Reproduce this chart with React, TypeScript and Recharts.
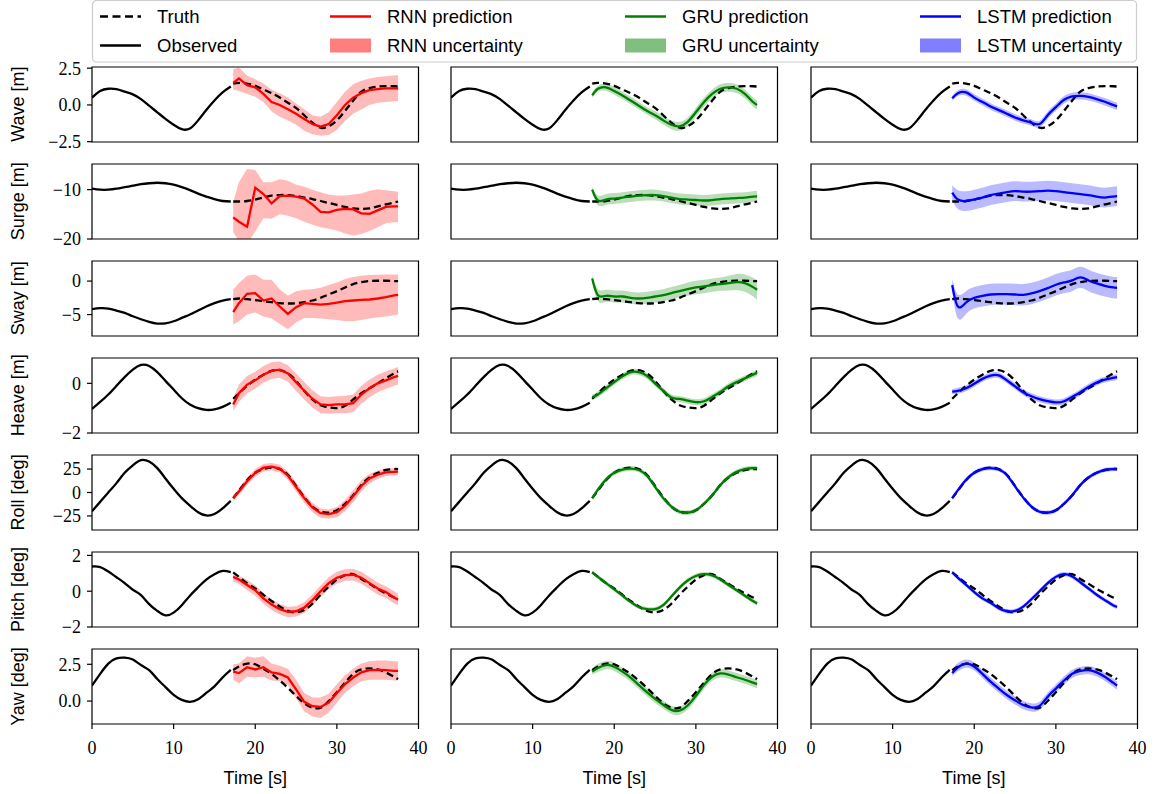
import React from 'react';
import { ComposedChart, Line, Area, XAxis, YAxis, ReferenceArea } from 'recharts';

// ---- time grids ----
const OBS_TIME = [0, 1, 2, 3, 4, 5, 6, 7, 8, 9, 10, 11, 12, 13, 14, 15, 16, 17];
const PRED_TIME = [17.3, 18, 19, 20, 21, 22, 23, 24, 25, 26, 27, 28, 29, 30, 31, 32, 33, 34, 35, 36, 37, 37.5];
const TIME_TICKS = [0, 10, 20, 30, 40];

// ---- Wave [m] ----
const waveObserved = [0.5, 0.95, 1.1, 1.07, 0.9, 0.72, 0.4, -0.05, -0.5, -0.95, -1.35, -1.65, -1.6, -1.05, -0.35, 0.3, 0.85, 1.25];
const waveTruth = [1.45, 1.5, 1.45, 1.3, 1.05, 0.8, 0.5, 0.15, -0.2, -0.7, -1.2, -1.55, -1.45, -1.05, -0.4, 0.3, 0.9, 1.15, 1.25, 1.28, 1.27, 1.25];
const waveRnn = [1.5, 1.8, 1.35, 1.2, 0.75, 0.2, 0.0, -0.3, -0.6, -0.95, -1.3, -1.48, -1.3, -0.7, 0.0, 0.5, 0.8, 1.0, 1.08, 1.12, 1.12, 1.12];
const waveRnnLow = [1.05, 0.95, 0.75, 0.55, 0.2, -0.45, -0.8, -1.05, -1.35, -1.75, -2.0, -2.1, -2.05, -1.7, -1.1, -0.6, -0.3, 0.0, 0.15, 0.2, 0.25, 0.27];
const waveRnnHigh = [2.43, 2.55, 2.0, 1.75, 1.45, 1.05, 0.8, 0.5, 0.1, -0.3, -0.7, -0.8, -0.5, 0.2, 0.9, 1.4, 1.65, 1.8, 1.9, 1.95, 2.0, 2.02];
const waveGru = [0.65, 1.1, 1.2, 0.95, 0.65, 0.3, -0.05, -0.4, -0.7, -1.05, -1.35, -1.45, -1.15, -0.5, 0.2, 0.75, 1.1, 1.2, 1.1, 0.75, 0.2, 0.0];
const waveGruSpread = [0.15, 0.2, 0.25, 0.25, 0.25, 0.25, 0.25, 0.25, 0.28, 0.28, 0.3, 0.3, 0.3, 0.3, 0.3, 0.3, 0.3, 0.3, 0.3, 0.3, 0.3, 0.3];
const waveLstm = [0.45, 0.8, 0.85, 0.5, 0.2, -0.1, -0.35, -0.6, -0.85, -1.05, -1.2, -1.3, -0.7, -0.15, 0.35, 0.58, 0.62, 0.55, 0.4, 0.22, 0.0, -0.1];
const waveLstmSpread = [0.15, 0.2, 0.22, 0.22, 0.22, 0.22, 0.22, 0.22, 0.22, 0.22, 0.22, 0.22, 0.25, 0.25, 0.25, 0.25, 0.25, 0.25, 0.25, 0.25, 0.25, 0.25];

// ---- Surge [m] ----
const surgeObserved = [-9.8, -10, -10, -9.8, -9.5, -9.2, -8.9, -8.7, -8.6, -8.7, -9.0, -9.5, -10.1, -10.8, -11.4, -11.9, -12.3, -12.4];
const surgeTruth = [-12.4, -12.4, -12.3, -12.0, -11.6, -11.2, -11.1, -11.1, -11.3, -11.6, -11.9, -12.3, -12.7, -13.1, -13.5, -13.8, -13.9, -13.8, -13.4, -13.0, -12.6, -12.4];
const surgeRnn = [-15.6, -16.5, -17.5, -9.6, -10.9, -12.8, -11.3, -11.2, -11.4, -11.8, -13.0, -14.5, -14.6, -14.1, -13.9, -14.0, -14.8, -14.9, -14.2, -13.5, -13.4, -13.4];
const surgeRnnLow = [-18.6, -20.5, -21, -18.5, -15.8, -15.9, -15.0, -15.3, -15.8, -16.5, -17.1, -17.6, -17.9, -18.3, -18.9, -19.3, -19.0, -18.4, -17.6, -16.8, -16.6, -16.6];
const surgeRnnHigh = [-12.5, -8.5, -5.8, -6.0, -8.5, -8.5, -7.9, -8.2, -9.0, -9.4, -10.0, -10.5, -11.0, -11.2, -11.2, -11.0, -10.8, -10.2, -9.9, -10.1, -10.3, -10.4];
const surgeGru = [-10.0, -12.2, -12.0, -11.8, -11.6, -11.4, -11.2, -11.1, -11.1, -11.3, -11.6, -11.9, -12.0, -12.1, -12.2, -12.1, -11.9, -11.8, -11.7, -11.6, -11.4, -11.35];
const surgeGruSpread = [0.6, 1.0, 1.1, 1.1, 1.1, 1.1, 1.1, 1.1, 1.1, 1.1, 1.1, 1.1, 1.1, 1.1, 1.1, 1.1, 1.1, 1.1, 1.1, 1.1, 1.1, 1.1];
const surgeLstm = [-10.6, -12.0, -12.3, -12.0, -11.6, -11.1, -10.8, -10.5, -10.3, -10.4, -10.4, -10.3, -10.2, -10.3, -10.5, -10.7, -10.9, -11.1, -11.4, -11.6, -11.4, -11.3];
const surgeLstmSpread = [1.5, 1.9, 2.0, 2.0, 2.0, 2.0, 2.0, 2.0, 2.0, 2.0, 2.0, 2.0, 2.0, 2.0, 2.0, 2.0, 2.0, 2.0, 2.0, 2.0, 2.0, 2.0];

// ---- Sway [m] ----
const swayObserved = [-4.2, -4.05, -4.1, -4.4, -4.75, -5.25, -5.7, -6.1, -6.35, -6.3, -6.0, -5.5, -5.0, -4.4, -3.8, -3.3, -2.9, -2.7];
const swayTruth = [-2.7, -2.6, -2.7, -2.85, -3.0, -3.15, -3.3, -3.35, -3.3, -3.15, -2.9, -2.5, -2.0, -1.5, -0.95, -0.45, -0.15, 0.0, 0.05, 0.05, 0.0, 0.0];
const swayRnn = [-4.65, -3.3, -1.9, -1.8, -2.9, -2.6, -3.8, -4.9, -3.9, -3.3, -3.4, -3.5, -3.4, -3.2, -3.0, -2.9, -2.8, -2.75, -2.6, -2.4, -2.15, -2.05];
const swayRnnLow = [-6.5, -6.0, -5.0, -4.7, -5.3, -5.6, -6.4, -7.2, -6.2, -5.5, -5.5, -5.6, -5.7, -5.8, -6.0, -6.0, -5.8, -5.6, -5.4, -5.3, -5.1, -5.0];
const swayRnnHigh = [-1.3, -0.3, 0.8, 1.0, 0.2, 0.2, -1.2, -2.2, -1.5, -1.3, -1.2, -1.0, -0.6, -0.2, 0.3, 0.6, 0.8, 0.9, 0.95, 1.0, 1.0, 1.0];
const swayGru = [0.4, -2.1, -2.2, -2.3, -2.3, -2.5, -2.6, -2.5, -2.3, -2.1, -1.8, -1.5, -1.2, -0.95, -0.8, -0.6, -0.45, -0.3, -0.15, -0.3, -0.9, -1.3];
const swayGruSpread = [0.5, 0.9, 0.9, 0.9, 0.9, 0.9, 0.9, 0.9, 0.9, 0.9, 0.9, 0.9, 1.0, 1.0, 1.0, 1.0, 1.0, 1.1, 1.2, 1.3, 1.4, 1.5];
const swayLstm = [-0.6, -3.8, -3.2, -2.5, -2.2, -2.0, -1.95, -1.95, -2.0, -2.05, -1.85, -1.5, -1.05, -0.55, -0.2, 0.1, 0.55, 0.1, -0.35, -0.7, -0.95, -1.0];
const swayLstmSpread = [1.0, 1.8, 1.7, 1.6, 1.6, 1.6, 1.6, 1.6, 1.6, 1.6, 1.6, 1.6, 1.6, 1.6, 1.6, 1.6, 1.6, 1.6, 1.6, 1.6, 1.6, 1.6];

// ---- Heave [m] ----
const heaveObserved = [-1.03, -0.75, -0.45, -0.1, 0.25, 0.55, 0.74, 0.7, 0.45, 0.1, -0.25, -0.6, -0.85, -1.0, -1.07, -1.05, -0.95, -0.78];
const heaveTruth = [-0.62, -0.4, -0.1, 0.15, 0.35, 0.5, 0.53, 0.4, 0.1, -0.3, -0.65, -0.88, -0.97, -1.0, -0.9, -0.65, -0.4, -0.2, 0.0, 0.2, 0.4, 0.48];
const heaveRnn = [-0.85, -0.4, -0.05, 0.12, 0.35, 0.5, 0.55, 0.4, 0.05, -0.3, -0.62, -0.85, -0.88, -0.85, -0.85, -0.8, -0.45, -0.2, 0.0, 0.12, 0.25, 0.3];
const heaveRnnLow = [-1.1, -0.75, -0.4, -0.22, 0.02, 0.17, 0.22, 0.06, -0.3, -0.65, -0.97, -1.2, -1.22, -1.2, -1.2, -1.15, -0.82, -0.56, -0.36, -0.23, -0.1, -0.05];
const heaveRnnHigh = [-0.6, -0.05, 0.3, 0.47, 0.7, 0.85, 0.88, 0.73, 0.4, 0.05, -0.28, -0.52, -0.55, -0.52, -0.5, -0.45, -0.1, 0.15, 0.35, 0.48, 0.6, 0.66];
const heaveGru = [-0.56, -0.45, -0.2, 0.05, 0.28, 0.45, 0.45, 0.3, 0.0, -0.3, -0.57, -0.63, -0.7, -0.76, -0.72, -0.55, -0.35, -0.12, 0.05, 0.2, 0.35, 0.42];
const heaveGruSpread = [0.1, 0.12, 0.12, 0.12, 0.12, 0.12, 0.12, 0.12, 0.12, 0.12, 0.12, 0.12, 0.12, 0.12, 0.12, 0.12, 0.12, 0.12, 0.12, 0.12, 0.12, 0.12];
const heaveLstm = [-0.33, -0.3, -0.2, -0.02, 0.18, 0.31, 0.32, 0.12, -0.12, -0.36, -0.52, -0.64, -0.72, -0.77, -0.72, -0.55, -0.36, -0.15, 0.03, 0.15, 0.22, 0.25];
const heaveLstmSpread = [0.1, 0.12, 0.12, 0.12, 0.12, 0.12, 0.12, 0.12, 0.12, 0.12, 0.12, 0.12, 0.12, 0.12, 0.12, 0.12, 0.12, 0.12, 0.12, 0.12, 0.12, 0.12];

// ---- Roll [deg] ----
const rollObserved = [-20, -10, 0, 10, 21, 29, 34.5, 33, 26, 15, 4, -6, -14, -21, -24.5, -23, -17, -9];
const rollTruth = [-6, 2, 13, 21, 25, 26.5, 25, 19, 7, -5, -15, -20.5, -21.5, -19, -12, -3, 8, 16, 21, 24, 25, 25];
const rollRnn = [-6, 1, 12, 21, 26.5, 27.5, 25.5, 18, 6, -6, -16, -22, -23, -21, -14, -4, 7, 15, 19, 21.5, 22, 22.3];
const rollRnnLow = [-9, -2.5, 8, 17, 22.5, 23.5, 21.5, 13.5, 1, -11, -21, -27, -28, -26.5, -20, -10.5, 1, 10, 14.5, 17.5, 18, 18.3];
const rollRnnHigh = [-3, 4.5, 16, 25, 30.5, 31.5, 29.5, 22.5, 11, -1, -11, -17, -18, -15.5, -8, 2.5, 13, 20, 23.5, 25.5, 26, 26.3];
const rollGru = [-6, 3, 14, 21, 24.5, 25.5, 24, 18, 6, -6, -15, -20.5, -21.5, -19, -12, -3, 8, 16.5, 22, 25, 26, 26];
const rollGruSpread = [2, 2.5, 2.5, 2.5, 2.5, 2.5, 2.5, 2.5, 2.5, 2.5, 2.5, 2.5, 2.5, 2.5, 2.5, 2.5, 2.5, 2.5, 2.5, 2.5, 2.5, 2.5];
const rollLstm = [-6, 2.5, 13.5, 21, 25, 26, 24.5, 18.5, 6.5, -5.5, -15, -20.5, -21.5, -19, -12, -3, 8, 16, 21, 24, 25, 25];
const rollLstmSpread = [2, 2.2, 2.2, 2.2, 2.2, 2.2, 2.2, 2.2, 2.2, 2.2, 2.2, 2.2, 2.2, 2.2, 2.2, 2.2, 2.2, 2.2, 2.2, 2.2, 2.2, 2.2];

// ---- Pitch [deg] ----
const pitchObserved = [1.38, 1.35, 1.1, 0.78, 0.45, 0.08, -0.22, -0.72, -1.1, -1.35, -1.2, -0.78, -0.25, 0.22, 0.65, 0.95, 1.13, 1.07];
const pitchTruth = [1.05, 0.8, 0.45, 0.15, -0.2, -0.55, -0.85, -1.1, -1.18, -1.05, -0.7, -0.2, 0.25, 0.65, 0.9, 0.95, 0.68, 0.42, 0.12, -0.12, -0.35, -0.45];
const pitchRnn = [0.8, 0.65, 0.35, 0.05, -0.4, -0.75, -1.0, -1.15, -1.12, -0.92, -0.5, 0.0, 0.45, 0.75, 0.9, 0.92, 0.75, 0.45, 0.15, -0.05, -0.35, -0.47];
const pitchRnnLow = [0.55, 0.4, 0.07, -0.25, -0.7, -1.05, -1.3, -1.45, -1.42, -1.22, -0.8, -0.32, 0.12, 0.42, 0.58, 0.6, 0.42, 0.12, -0.18, -0.38, -0.68, -0.8];
const pitchRnnHigh = [1.0, 0.88, 0.62, 0.33, -0.12, -0.47, -0.72, -0.87, -0.84, -0.62, -0.18, 0.32, 0.78, 1.08, 1.22, 1.25, 1.08, 0.78, 0.48, 0.28, 0.0, -0.14];
const pitchGru = [1.05, 0.8, 0.45, 0.1, -0.25, -0.6, -0.88, -1.0, -1.0, -0.78, -0.3, 0.2, 0.6, 0.85, 0.95, 0.88, 0.65, 0.35, 0.05, -0.25, -0.55, -0.68];
const pitchGruSpread = [0.08, 0.12, 0.12, 0.12, 0.12, 0.12, 0.12, 0.12, 0.12, 0.12, 0.12, 0.12, 0.12, 0.12, 0.12, 0.12, 0.12, 0.12, 0.12, 0.12, 0.12, 0.12];
const pitchLstm = [1.05, 0.75, 0.35, -0.05, -0.4, -0.65, -0.95, -1.12, -1.1, -0.86, -0.45, 0.0, 0.45, 0.8, 0.95, 0.82, 0.5, 0.15, -0.2, -0.5, -0.78, -0.88];
const pitchLstmSpread = [0.08, 0.12, 0.12, 0.12, 0.12, 0.12, 0.12, 0.12, 0.12, 0.12, 0.12, 0.12, 0.12, 0.12, 0.12, 0.12, 0.12, 0.12, 0.12, 0.12, 0.12, 0.12];

// ---- Yaw [deg] ----
const yawObserved = [1.05, 1.85, 2.55, 2.9, 2.95, 2.82, 2.45, 2.1, 1.5, 0.95, 0.42, 0.08, -0.05, 0.12, 0.55, 1.0, 1.6, 2.12];
const yawTruth = [2.1, 2.35, 2.55, 2.5, 2.2, 1.85, 1.4, 0.9, 0.35, -0.15, -0.45, -0.45, 0.0, 0.6, 1.25, 1.85, 2.15, 2.22, 2.15, 1.95, 1.65, 1.5];
const yawRnn = [2.0, 1.9, 2.3, 2.15, 2.3, 1.95, 1.85, 1.6, 0.8, -0.05, -0.35, -0.4, -0.1, 0.55, 1.15, 1.6, 1.95, 2.1, 2.12, 2.1, 2.05, 2.05];
const yawRnnLow = [1.45, 1.2, 1.65, 1.6, 1.65, 1.4, 1.35, 1.1, 0.2, -0.7, -1.05, -1.15, -0.8, -0.1, 0.55, 1.0, 1.35, 1.45, 1.45, 1.45, 1.4, 1.4];
const yawRnnHigh = [2.5, 2.55, 3.05, 2.95, 3.05, 2.55, 2.4, 2.2, 1.45, 0.55, 0.25, 0.25, 0.5, 1.15, 1.75, 2.2, 2.55, 2.7, 2.75, 2.75, 2.7, 2.7];
const yawGru = [2.0, 2.25, 2.45, 2.33, 2.0, 1.6, 1.1, 0.6, 0.15, -0.25, -0.6, -0.65, -0.3, 0.35, 1.1, 1.65, 1.88, 1.8, 1.62, 1.45, 1.25, 1.15];
const yawGruSpread = [0.2, 0.28, 0.28, 0.28, 0.28, 0.28, 0.28, 0.28, 0.28, 0.28, 0.28, 0.28, 0.28, 0.28, 0.28, 0.28, 0.28, 0.28, 0.28, 0.28, 0.28, 0.28];
const yawLstm = [1.9, 2.3, 2.55, 2.35, 1.85, 1.32, 0.85, 0.41, 0.05, -0.27, -0.43, -0.33, 0.3, 0.85, 1.4, 1.85, 2.05, 2.1, 1.95, 1.65, 1.25, 1.05];
const yawLstmSpread = [0.2, 0.28, 0.28, 0.28, 0.28, 0.28, 0.28, 0.28, 0.28, 0.28, 0.28, 0.28, 0.28, 0.28, 0.28, 0.28, 0.28, 0.28, 0.28, 0.28, 0.28, 0.28];

// ---- panel definitions ----
type RowDef = {
  label: string;
  domain: [number, number];
  ticks: number[];
  decimals: number;
  observed: number[];
  truth: number[];
  rnn: number[];
  rnnLow: number[];
  rnnHigh: number[];
  gru: number[];
  gruSpread: number[];
  lstm: number[];
  lstmSpread: number[];
};

const ROWS: RowDef[] = [
  { label: 'Wave [m]', domain: [-2.52, 2.58], ticks: [-2.5, 0, 2.5], decimals: 1, observed: waveObserved, truth: waveTruth, rnn: waveRnn, rnnLow: waveRnnLow, rnnHigh: waveRnnHigh, gru: waveGru, gruSpread: waveGruSpread, lstm: waveLstm, lstmSpread: waveLstmSpread },
  { label: 'Surge [m]', domain: [-20, -4.8], ticks: [-20, -10], decimals: 0, observed: surgeObserved, truth: surgeTruth, rnn: surgeRnn, rnnLow: surgeRnnLow, rnnHigh: surgeRnnHigh, gru: surgeGru, gruSpread: surgeGruSpread, lstm: surgeLstm, lstmSpread: surgeLstmSpread },
  { label: 'Sway [m]', domain: [-8.2, 3.0], ticks: [-5, 0], decimals: 0, observed: swayObserved, truth: swayTruth, rnn: swayRnn, rnnLow: swayRnnLow, rnnHigh: swayRnnHigh, gru: swayGru, gruSpread: swayGruSpread, lstm: swayLstm, lstmSpread: swayLstmSpread },
  { label: 'Heave [m]', domain: [-2, 1.02], ticks: [-2, 0], decimals: 0, observed: heaveObserved, truth: heaveTruth, rnn: heaveRnn, rnnLow: heaveRnnLow, rnnHigh: heaveRnnHigh, gru: heaveGru, gruSpread: heaveGruSpread, lstm: heaveLstm, lstmSpread: heaveLstmSpread },
  { label: 'Roll [deg]', domain: [-40, 40], ticks: [-25, 0, 25], decimals: 0, observed: rollObserved, truth: rollTruth, rnn: rollRnn, rnnLow: rollRnnLow, rnnHigh: rollRnnHigh, gru: rollGru, gruSpread: rollGruSpread, lstm: rollLstm, lstmSpread: rollLstmSpread },
  { label: 'Pitch [deg]', domain: [-2, 2.19], ticks: [-2, 0, 2], decimals: 0, observed: pitchObserved, truth: pitchTruth, rnn: pitchRnn, rnnLow: pitchRnnLow, rnnHigh: pitchRnnHigh, gru: pitchGru, gruSpread: pitchGruSpread, lstm: pitchLstm, lstmSpread: pitchLstmSpread },
  { label: 'Yaw [deg]', domain: [-1.56, 3.54], ticks: [0, 2.5], decimals: 1, observed: yawObserved, truth: yawTruth, rnn: yawRnn, rnnLow: yawRnnLow, rnnHigh: yawRnnHigh, gru: yawGru, gruSpread: yawGruSpread, lstm: yawLstm, lstmSpread: yawLstmSpread },
];

const MODELS = [
  { name: 'RNN', color: '#ff0000', jagged: true },
  { name: 'GRU', color: '#008000', jagged: false },
  { name: 'LSTM', color: '#0000ff', jagged: false },
];

// ---- layout ----
const PLOT_LEFT = [92, 451, 810.5];
const PLOT_W = 326.5;
const PLOT_TOP0 = 66.7;
const ROW_STEP = 97.05;
const PLOT_H = 75;
const AXIS_W = 92;
const TOP_PAD = 14;
const RIGHT_PAD = 18;
const X_AXIS_H = 40;

const SANS = '"Liberation Sans", Arial, sans-serif';
const SERIF = '"Liberation Serif", "DejaVu Serif", serif';
const LINE_W = 2.3;

const fmt = (v: number, d: number) => (v < 0 ? '\u2212' : '') + Math.abs(v).toFixed(d);

function Panel({ row, rowIndex, col }: { row: RowDef; rowIndex: number; col: number }) {
  const model = MODELS[col];
  const isLast = rowIndex === ROWS.length - 1;
  const isFirst = col === 0;
  const top = PLOT_TOP0 + rowIndex * ROW_STEP;

  const observed = OBS_TIME.map((t, i) => ({ t, v: row.observed[i] }));
  const truth = PRED_TIME.map((t, i) => ({ t, v: row.truth[i] }));
  let pred: { t: number; v: number }[];
  let band: { t: number; range: [number, number] }[];
  if (model.name === 'RNN') {
    pred = PRED_TIME.map((t, i) => ({ t, v: row.rnn[i] }));
    band = PRED_TIME.map((t, i) => ({ t, range: [row.rnnLow[i], row.rnnHigh[i]] }));
  } else {
    const mean = model.name === 'GRU' ? row.gru : row.lstm;
    const spread = model.name === 'GRU' ? row.gruSpread : row.lstmSpread;
    pred = PRED_TIME.map((t, i) => ({ t, v: mean[i] }));
    band = PRED_TIME.map((t, i) => ({ t, range: [mean[i] - spread[i], mean[i] + spread[i]] }));
  }
  const curve = model.jagged ? 'linear' : 'natural';

  return (
    <div style={{ position: 'absolute', left: PLOT_LEFT[col] - AXIS_W, top: top - TOP_PAD }}>
      <ComposedChart
        width={AXIS_W + PLOT_W + RIGHT_PAD}
        height={TOP_PAD + PLOT_H + X_AXIS_H}
        margin={{ top: TOP_PAD, right: RIGHT_PAD, bottom: 0, left: 0 }}
      >
        <XAxis
          type="number"
          dataKey="t"
          domain={[0, 40]}
          ticks={TIME_TICKS}
          interval={0}
          allowDataOverflow
          axisLine={false}
          tickLine={{ stroke: '#000', strokeWidth: 1.2 }}
          tickSize={5}
          tickMargin={12}
          height={X_AXIS_H}
          tick={isLast ? { fill: '#000', fontSize: 18, fontFamily: SERIF } : false}
        />
        <YAxis
          type="number"
          domain={row.domain}
          ticks={row.ticks}
          interval={0}
          allowDataOverflow
          axisLine={false}
          tickLine={{ stroke: '#000', strokeWidth: 1.2 }}
          tickSize={5}
          tickMargin={6}
          width={AXIS_W}
          tickFormatter={(v: number) => fmt(v, row.decimals)}
          tick={isFirst ? { fill: '#000', fontSize: 18, fontFamily: SERIF } : false}
        />
        <Area
          data={band}
          dataKey="range"
          type={curve}
          stroke="none"
          fill={model.color}
          fillOpacity={0.27}
          isAnimationActive={false}
          activeDot={false}
        />
        <Line
          data={observed}
          dataKey="v"
          type="natural"
          stroke="#000"
          strokeWidth={LINE_W}
          dot={false}
          activeDot={false}
          isAnimationActive={false}
        />
        <Line
          data={truth}
          dataKey="v"
          type="natural"
          stroke="#000"
          strokeWidth={LINE_W}
          strokeDasharray="7 4"
          dot={false}
          activeDot={false}
          isAnimationActive={false}
        />
        <Line
          data={pred}
          dataKey="v"
          type={curve}
          stroke={model.color}
          strokeWidth={LINE_W}
          dot={false}
          activeDot={false}
          isAnimationActive={false}
        />
        <ReferenceArea
          x1={0}
          x2={40}
          y1={row.domain[0]}
          y2={row.domain[1]}
          fill="none"
          fillOpacity={0}
          stroke="#000"
          strokeWidth={1.2}
          ifOverflow="visible"
        />
      </ComposedChart>
    </div>
  );
}

// ---- legend ----
const LEGEND_COLS = [
  { x: 100, top: { label: 'Truth', kind: 'dash', color: '#000' }, bottom: { label: 'Observed', kind: 'line', color: '#000' } },
  { x: 330, top: { label: 'RNN prediction', kind: 'line', color: '#ff0000' }, bottom: { label: 'RNN uncertainty', kind: 'patch', color: '#ff0000' } },
  { x: 625, top: { label: 'GRU prediction', kind: 'line', color: '#008000' }, bottom: { label: 'GRU uncertainty', kind: 'patch', color: '#008000' } },
  { x: 920, top: { label: 'LSTM prediction', kind: 'line', color: '#0000ff' }, bottom: { label: 'LSTM uncertainty', kind: 'patch', color: '#0000ff' } },
];
const LEGEND_ROW_Y = [16.5, 45.5];

function LegendItem({ x, y, item }: { x: number; y: number; item: { label: string; kind: string; color: string } }) {
  const handleLen = 41;
  return (
    <g>
      {item.kind === 'patch' ? (
        <rect x={x} y={y - 7} width={handleLen} height={14} fill={item.color} fillOpacity={0.5} />
      ) : (
        <line
          x1={x}
          x2={x + handleLen}
          y1={y}
          y2={y}
          stroke={item.color}
          strokeWidth={LINE_W}
          strokeDasharray={item.kind === 'dash' ? '8 4.5' : undefined}
        />
      )}
      <text x={x + 57} y={y} dominantBaseline="central" fontFamily={SANS} fontSize={18.5} fill="#000">
        {item.label}
      </text>
    </g>
  );
}

export default function App() {
  return (
    <div style={{ position: 'absolute', left: 0, top: 0, width: 1156, height: 794, background: '#fff', overflow: 'hidden' }}>
      {ROWS.map((row, r) =>
        MODELS.map((_, c) => <Panel key={`${r}-${c}`} row={row} rowIndex={r} col={c} />)
      )}
      <svg width={1156} height={794} style={{ position: 'absolute', left: 0, top: 0, pointerEvents: 'none' }}>
        <rect x={92.5} y={0.5} width={1044} height={61.5} rx={4} fill="#fff" fillOpacity={0.85} stroke="#cccccc" strokeWidth={1.2} />
        {LEGEND_COLS.map((c) => (
          <g key={c.x}>
            <LegendItem x={c.x} y={LEGEND_ROW_Y[0]} item={c.top} />
            <LegendItem x={c.x} y={LEGEND_ROW_Y[1]} item={c.bottom} />
          </g>
        ))}
        {ROWS.map((row, r) => {
          const cy = PLOT_TOP0 + r * ROW_STEP + PLOT_H / 2;
          return (
            <text
              key={row.label}
              x={18}
              y={cy}
              transform={`rotate(-90 18 ${cy})`}
              textAnchor="middle"
              dominantBaseline="central"
              fontFamily={SANS}
              fontSize={18}
              fill="#000"
            >
              {row.label}
            </text>
          );
        })}
        {PLOT_LEFT.map((left) => (
          <text
            key={left}
            x={left + PLOT_W / 2}
            y={778}
            textAnchor="middle"
            dominantBaseline="central"
            fontFamily={SANS}
            fontSize={18}
            fill="#000"
          >
            Time [s]
          </text>
        ))}
      </svg>
    </div>
  );
}
